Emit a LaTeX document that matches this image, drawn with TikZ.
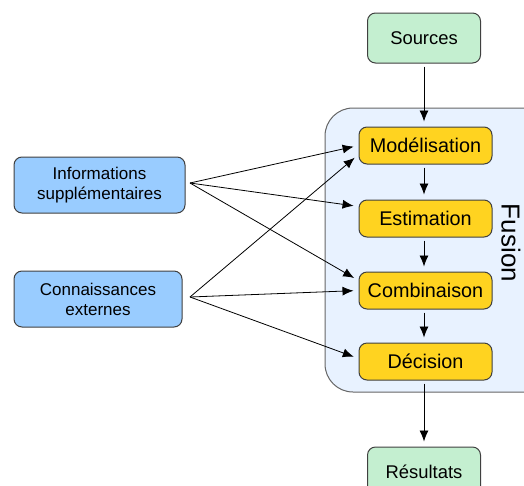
\documentclass[tikz,border=0pt]{standalone}
\usepackage{fontspec}
\setmainfont{Liberation Sans}
\usepackage{tikz}
\usetikzlibrary{arrows.meta,positioning}
\definecolor{mint}{RGB}{196, 239, 208}
\definecolor{skyblue}{RGB}{153, 204, 255}
\definecolor{sunyellow}{RGB}{255, 211, 32}
\definecolor{paleblue}{RGB}{232, 242, 255}
\definecolor{edgegray}{RGB}{64, 64, 64}

\tikzset{
    box/.style={draw=edgegray, line width=1pt, rounded corners=8pt, align=center, inner sep=0pt},
    endbox/.style={box, fill=mint, minimum width=113pt, minimum height=50pt, font=\fontsize{18.4}{22}\selectfont},
    stagebox/.style={box, fill=sunyellow, minimum width=133pt, minimum height=37pt, font=\fontsize{19.8}{24}\selectfont},
    sidebox/.style={box, fill=skyblue, minimum height=56pt, font=\fontsize{17}{20}\selectfont},
    arr/.style={-{Latex[length=11pt,width=9pt]}, line width=0.8pt, shorten >=5pt}
}

\begin{document}
\begin{tikzpicture}[x=1pt, y=-1pt]
            \clip (0,0) rectangle (524,485);

            % Fusion block
            \draw[fill=paleblue, draw=gray!80!black, line width=1pt, rounded corners=28pt] (325,108) rectangle (570,392);
            \node[rotate=-90, font=\fontsize{26}{30}\selectfont] (fusion) at (511,243) {Fusion};

            % Stages
            \node[endbox] (src) at (424,38) {Sources};
            \node[stagebox] (mod) at (425.5,145.5) {Modélisation};
            \node[stagebox] (est) at (425.5,218.5) {Estimation};
            \node[stagebox] (comb) at (425.5,290.5) {Combinaison};
            \node[stagebox] (dec) at (425.5,361.5) {Décision};
            \node[endbox] (res) at (424,472) {Résultats};

            % Side inputs
            \node[sidebox, minimum width=171pt] (info) at (99.5,185) {Informations\\supplémentaires};
            \node[sidebox, minimum width=168pt] (conn) at (98,299) {Connaissances\\externes};
            \coordinate (infoout) at (190,183);
            \coordinate (connout) at (190,297);

            % Arrows
            \foreach \a/\b in {src/mod, mod/est, est/comb, comb/dec, dec/res} {
                \draw[arr, shorten <=3pt] (\a.south -| src) -- (\b.north -| src);
            }
            \foreach \t/\s in {mod/0, est/12, comb/10} {
                \draw[arr] (infoout) -- ([yshift=\s pt]\t.west);
            }
            \foreach \t/\s in {mod/-9, comb/0, dec/3} {
                \draw[arr] (connout) -- ([yshift=\s pt]\t.west);
            }
        \end{tikzpicture}
\end{document}
